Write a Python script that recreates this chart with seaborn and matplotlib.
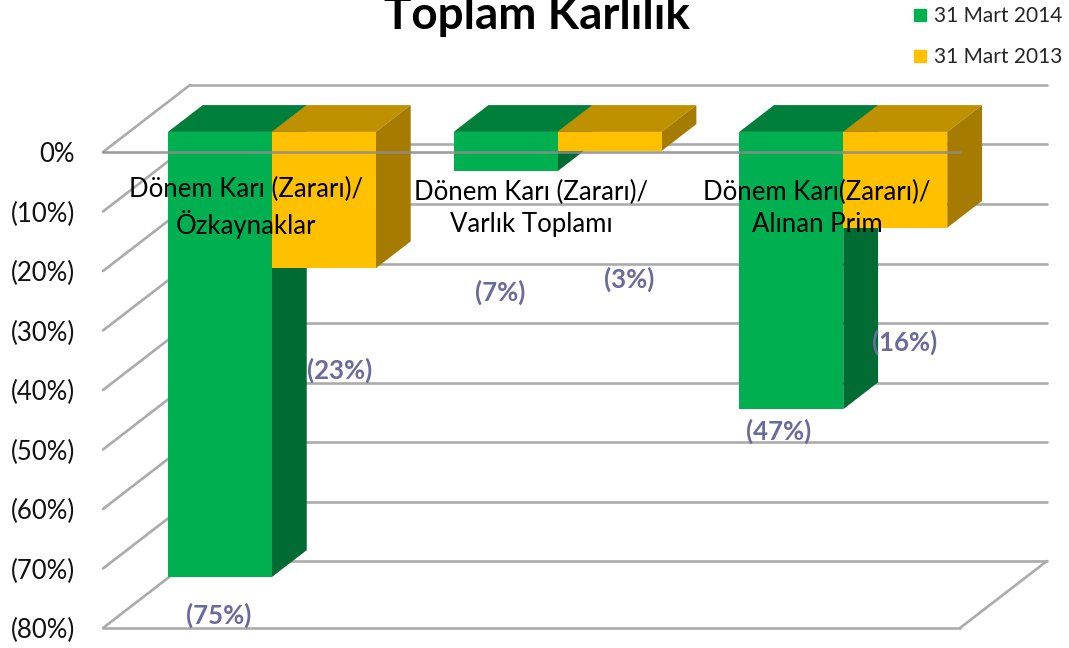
import numpy as np
import pandas as pd
import seaborn as sns
import matplotlib.pyplot as plt
from matplotlib.lines import Line2D
from matplotlib.patches import Polygon
from matplotlib.transforms import Affine2D, IdentityTransform

# data
categories = ['Dönem Karı (Zararı)/\nÖzkaynaklar', 'Dönem Karı (Zararı)/\nVarlık Toplamı', 'Dönem Karı(Zararı)/\nAlınan Prim']
series = ['31 Mart 2014', '31 Mart 2013']
values_2014 = [-74.8, -6.6, -46.6]
values_2013 = [-22.9, -3.2, -16.1]
yticks = [0, -10, -20, -30, -40, -50, -60, -70, -80]
ytick_labels = ['0%', '(10%)', '(20%)', '(30%)', '(40%)', '(50%)', '(60%)', '(70%)', '(80%)']

# fake 3d: how far the back wall sits from the front plane, in pixels
W, H = 1069, 648
DEPTH = np.array([87, 67])
BAR_PLANE = 0.3
BAR_DEPTH = 0.4
FONT = 'Lato'
GRID = '#ABABAB'

front = {'31 Mart 2014': '#00B050', '31 Mart 2013': '#FFC000'}
top = {'31 Mart 2014': '#007F3A', '31 Mart 2013': '#BF9000'}
side = {'31 Mart 2014': '#006B32', '31 Mart 2013': '#A67C00'}

# label spots in pixels from the top left of the image
label_pos_2014 = [(219, 615), (500, 292), (779, 431)]
label_pos_2013 = [(340, 370), (629, 279), (905, 342)]

sns.set_theme(style='white')
plt.rcParams['font.family'] = [FONT, 'DejaVu Sans']

df = pd.DataFrame({
    'category': categories * 2,
    'series': [series[0]] * 3 + [series[1]] * 3,
    'value': values_2014 + values_2013,
})

fig = plt.figure(figsize=(W / 100, H / 100), dpi=100, facecolor='white')
ax = fig.add_axes([103 / W, 1 - 628 / H, (960 - 103) / W, (628 - 152) / H])
sns.barplot(data=df, x='category', y='value', hue='series', hue_order=series, palette=front,
            width=0.728, gap=0, saturation=1, legend=False, ax=ax)
ax.set_xlim(-0.5, 2.5)
ax.set_ylim(-80, 0)
ax.patch.set_alpha(0)
sns.despine(ax=ax, left=True, bottom=True)
ax.set_xlabel('')
ax.set_ylabel('')
ax.set_xticks([])
ax.set_yticks(yticks)
ax.set_yticklabels(ytick_labels, fontsize=18.5, color='#111111')
ax.tick_params(axis='y', length=0, pad=20)


def at(x, y, d=0.0):
    # display position of a data point pushed d of the way to the back wall
    return ax.transData.transform((x, y)) + d * DEPTH


def line(p, q):
    ax.add_line(Line2D([p[0], q[0]], [p[1], q[1]], transform=IdentityTransform(),
                       color=GRID, lw=1.9, zorder=1, clip_on=False))


# back wall and left wall lines
for y in yticks:
    line(at(-0.5, y), at(-0.5, y, 1))
    line(at(-0.5, y, 1), at(2.5, y, 1))
# floor
line(at(-0.5, -80), at(2.5, -80))
line(at(2.5, -80), at(2.5, -80, 1))

bars = [b for c in ax.containers for b in c]
bar_colors = [series[0]] * 3 + [series[1]] * 3
plane = Affine2D().translate(*(BAR_PLANE * DEPTH))
for b, name in zip(bars, bar_colors):
    x0, x1 = b.get_x(), b.get_x() + b.get_width()
    y = b.get_y() + b.get_height()
    b.set_transform(ax.transData + plane)
    b.set_clip_on(False)
    b.set_edgecolor('none')
    b.set_zorder(4)
    d0, d1 = BAR_PLANE, BAR_PLANE + BAR_DEPTH
    top_face = [at(x0, 0, d0), at(x1, 0, d0), at(x1, 0, d1), at(x0, 0, d1)]
    side_face = [at(x1, 0, d0), at(x1, y, d0), at(x1, y, d1), at(x1, 0, d1)]
    ax.add_patch(Polygon(top_face, closed=True, transform=IdentityTransform(), color=top[name],
                         lw=0, zorder=3, clip_on=False))
    ax.add_patch(Polygon(side_face, closed=True, transform=IdentityTransform(), color=side[name],
                         lw=0, zorder=3, clip_on=False))

# 0% line runs over the bars
ax.plot([-0.5, 2.5], [0, 0], color='#8C8C8C', lw=1.9, alpha=0.85, zorder=5, clip_on=False)
ax.set_xlim(-0.5, 2.5)
ax.set_ylim(-80, 0)

# category names sit inside the plot, over the bars
for i, name in enumerate(categories):
    px = at(i, 0)[0]
    fig.text(px / W, 1 - 208 / H, name, ha='center', va='center', fontsize=18.5, color='black',
             linespacing=1.35, zorder=6)

# data labels
for vals, spots in [(values_2014, label_pos_2014), (values_2013, label_pos_2013)]:
    for v, (px, py) in zip(vals, spots):
        fig.text(px / W, 1 - py / H, '(%d%%)' % round(abs(v)), ha='center', va='center',
                 fontsize=18.5, fontweight='bold', color='#6A6A9C', zorder=7)

# the title runs into the top edge in the original too
fig.text(537 / W, 1 - 29 / H, 'Toplam Karlılık', ha='center', va='baseline', fontsize=33,
         fontweight='bold', color='black')

handles = [Line2D([], [], ls='', marker='s', ms=9, color=front[s], label=s) for s in series]
fig.legend(handles=handles, loc='upper right', bbox_to_anchor=(0.998, 0.997), frameon=False,
           fontsize=15, labelspacing=1.0, handlelength=0.7, handletextpad=0.35,
           borderaxespad=0, borderpad=0.2)

fig.savefig('out.png', dpi=100)
